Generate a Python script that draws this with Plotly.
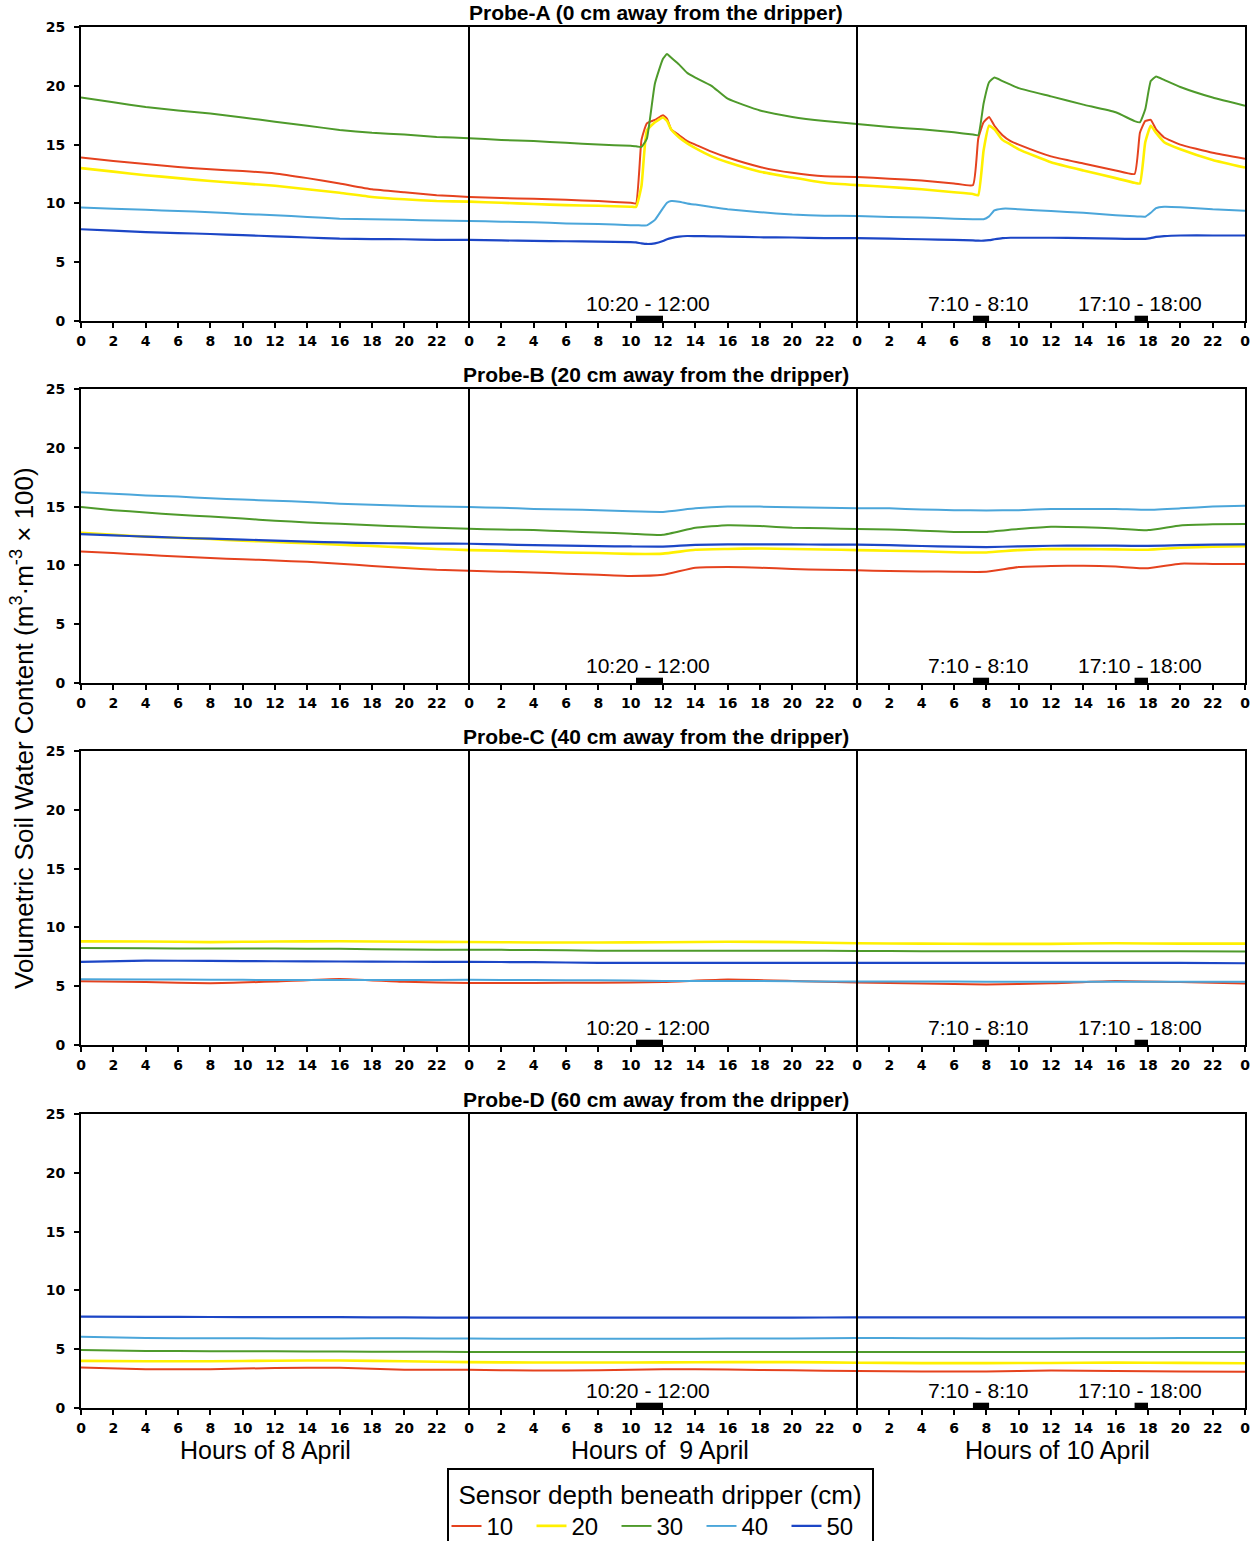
import plotly.graph_objects as go

W, H = 1259, 1541

# ---------------- data ----------------
DEPTHS = ["10", "20", "30", "40", "50"]
COLORS = ["#E5421E", "#FFF000", "#4E9A2B", "#4BA6DA", "#1C46C6"]
WIDTHS = [2, 2.6, 2, 2, 2.2]

HOUR_TICKS = [0, 2, 4, 6, 8, 10, 12, 14, 16, 18, 20, 22]
DAY_LABELS = ["Hours of 8 April", "Hours of  9 April", "Hours of 10 April"]
PROBE_TITLES = ["Probe-A (0 cm away from the dripper)",
                "Probe-B (20 cm away from the dripper)",
                "Probe-C (40 cm away from the dripper)",
                "Probe-D (60 cm away from the dripper)"]
IRRIG_START = [34.33, 55.17, 65.17]
IRRIG_END = [36.0, 56.17, 66.0]
IRRIG_LABELS = ["10:20 - 12:00", "7:10 - 8:10", "17:10 - 18:00"]
IRRIG_LABEL_X = [35.1, 55.5, 65.5]

# Probe A
HOURS_A = [0, 2, 4, 6, 8, 10, 12, 14, 16, 18, 20, 22,
           24, 26, 28, 30, 32, 34, 34.33, 34.67, 35, 35.5, 36, 36.25, 36.5, 37, 37.5, 38, 39, 40, 42, 44, 46,
           48, 50, 52, 54, 55.17, 55.5, 55.83, 56.17, 56.5, 57, 57.5, 58, 60, 62, 64,
           65.17, 65.5, 65.83, 66.17, 66.5, 67, 68, 70, 72]
A_10 = [13.9, 13.6, 13.35, 13.1, 12.9, 12.75, 12.55, 12.15, 11.7, 11.2, 10.95, 10.7,
        10.55, 10.45, 10.4, 10.3, 10.2, 10.05, 10.0, 15.4, 16.8, 17.1, 17.5, 17.2, 16.3, 15.8, 15.3, 15.0, 14.4, 13.9, 13.1, 12.6, 12.3,
        12.25, 12.1, 11.95, 11.7, 11.55, 15.5, 16.9, 17.35, 16.6, 15.8, 15.3, 15.0, 14.0, 13.4, 12.8,
        12.5, 16.0, 17.0, 17.1, 16.3, 15.6, 15.0, 14.3, 13.8]
A_20 = [13.0, 12.7, 12.4, 12.15, 11.9, 11.7, 11.5, 11.2, 10.9, 10.55, 10.35, 10.2,
        10.15, 10.05, 9.95, 9.85, 9.8, 9.72, 9.7, 11.5, 16.2, 16.9, 17.3, 17.0, 16.3, 15.6, 15.1, 14.7, 14.0, 13.5, 12.7, 12.2, 11.75,
        11.55, 11.4, 11.2, 10.95, 10.8, 10.7, 14.5, 16.6, 16.3, 15.4, 15.0, 14.6, 13.5, 12.8, 12.15,
        11.75, 11.7, 15.2, 16.6, 16.0, 15.2, 14.6, 13.7, 13.05]
A_30 = [19.0, 18.6, 18.2, 17.9, 17.65, 17.3, 16.95, 16.6, 16.25, 16.0, 15.85, 15.65,
        15.55, 15.4, 15.3, 15.15, 15.0, 14.9, 14.85, 14.8, 15.5, 20.2, 22.3, 22.7, 22.4, 21.8, 21.1, 20.7, 20.0, 18.9, 17.9, 17.35, 17.0,
        16.75, 16.5, 16.3, 16.05, 15.85, 15.8, 18.5, 20.3, 20.7, 20.4, 20.1, 19.8, 19.1, 18.4, 17.75,
        17.0, 16.9, 18.0, 20.4, 20.8, 20.5, 19.9, 19.0, 18.3]
A_40 = [9.65, 9.55, 9.45, 9.35, 9.25, 9.1, 9.0, 8.85, 8.7, 8.65, 8.6, 8.55,
        8.5, 8.45, 8.4, 8.3, 8.25, 8.15, 8.15, 8.13, 8.13, 8.6, 9.6, 10.05, 10.2, 10.15, 10.0, 9.9, 9.7, 9.5, 9.25, 9.05, 8.95,
        8.93, 8.85, 8.8, 8.7, 8.65, 8.65, 8.65, 8.9, 9.4, 9.55, 9.55, 9.5, 9.35, 9.2, 9.0,
        8.9, 8.88, 8.87, 9.2, 9.6, 9.72, 9.68, 9.5, 9.38]
A_50 = [7.8, 7.68, 7.55, 7.48, 7.4, 7.3, 7.2, 7.1, 7.0, 6.97, 6.95, 6.9,
        6.9, 6.85, 6.82, 6.78, 6.75, 6.7, 6.68, 6.6, 6.55, 6.6, 6.8, 6.95, 7.05, 7.18, 7.23, 7.22, 7.2, 7.18, 7.12, 7.1, 7.05,
        7.05, 7.0, 6.95, 6.9, 6.85, 6.83, 6.83, 6.87, 6.95, 7.05, 7.08, 7.08, 7.08, 7.05, 7.0,
        6.98, 6.98, 6.98, 7.05, 7.15, 7.22, 7.27, 7.27, 7.27]

# Probe B
HOURS_B = [0, 2, 4, 6, 8, 10, 12, 14, 16, 18, 20, 22,
           24, 26, 28, 30, 32, 34, 36, 38, 40, 42, 44, 46,
           48, 50, 52, 54, 56, 58, 60, 62, 64, 66, 68, 70, 72]
B_10 = [11.19, 11.05, 10.9, 10.75, 10.62, 10.52, 10.42, 10.3, 10.14, 9.95, 9.77, 9.62,
        9.55, 9.47, 9.4, 9.3, 9.2, 9.1, 9.2, 9.8, 9.86, 9.8, 9.7, 9.62,
        9.58, 9.52, 9.49, 9.46, 9.46, 9.86, 9.95, 9.97, 9.9, 9.75, 10.15, 10.12, 10.11]
B_20 = [12.78, 12.6, 12.45, 12.35, 12.24, 12.1, 12.0, 11.88, 11.76, 11.65, 11.53, 11.4,
        11.3, 11.25, 11.18, 11.1, 11.05, 10.98, 11.0, 11.33, 11.4, 11.44, 11.4, 11.35,
        11.3, 11.25, 11.2, 11.12, 11.1, 11.3, 11.39, 11.38, 11.36, 11.33, 11.5, 11.59, 11.64]
B_30 = [14.96, 14.7, 14.5, 14.3, 14.16, 13.98, 13.8, 13.65, 13.54, 13.42, 13.3, 13.2,
        13.12, 13.05, 13.0, 12.9, 12.8, 12.7, 12.6, 13.2, 13.42, 13.35, 13.2, 13.15,
        13.09, 13.05, 12.95, 12.85, 12.85, 13.1, 13.29, 13.25, 13.14, 13.0, 13.4, 13.5, 13.51]
B_40 = [16.23, 16.1, 15.95, 15.85, 15.7, 15.6, 15.5, 15.4, 15.25, 15.15, 15.07, 15.0,
        14.96, 14.9, 14.8, 14.75, 14.7, 14.6, 14.55, 14.85, 15.0, 15.0, 14.95, 14.9,
        14.85, 14.85, 14.75, 14.7, 14.67, 14.7, 14.8, 14.8, 14.8, 14.73, 14.85, 15.0, 15.07]
B_50 = [12.66, 12.55, 12.45, 12.35, 12.27, 12.2, 12.1, 12.02, 11.95, 11.9, 11.87, 11.85,
        11.84, 11.78, 11.72, 11.68, 11.64, 11.61, 11.6, 11.75, 11.78, 11.78, 11.78, 11.77,
        11.76, 11.72, 11.65, 11.6, 11.56, 11.62, 11.67, 11.68, 11.68, 11.66, 11.72, 11.76, 11.78]

# Probe C
HOURS_C = [0, 4, 8, 12, 16, 20, 24, 28, 32, 36, 40, 44, 48, 52, 56, 60, 64, 68, 72]
C_10 = [5.42, 5.36, 5.25, 5.4, 5.62, 5.37, 5.28, 5.28, 5.3, 5.35, 5.56, 5.45, 5.31, 5.23, 5.15, 5.25, 5.45, 5.35, 5.23]
C_20 = [8.81, 8.8, 8.75, 8.8, 8.82, 8.78, 8.76, 8.72, 8.72, 8.74, 8.78, 8.75, 8.65, 8.62, 8.6, 8.6, 8.65, 8.62, 8.62]
C_30 = [8.25, 8.23, 8.2, 8.2, 8.18, 8.12, 8.1, 8.08, 8.02, 8.02, 8.02, 8.02, 8.0, 7.97, 7.97, 7.97, 7.97, 7.97, 7.95]
C_40 = [5.59, 5.57, 5.55, 5.53, 5.52, 5.53, 5.54, 5.52, 5.5, 5.45, 5.45, 5.42, 5.4, 5.4, 5.38, 5.38, 5.38, 5.38, 5.38]
C_50 = [7.06, 7.17, 7.15, 7.12, 7.1, 7.08, 7.06, 7.05, 6.98, 6.98, 6.98, 6.98, 6.98, 6.98, 6.98, 6.98, 6.98, 6.98, 6.95]

# Probe D
HOURS_D = [0, 4, 8, 12, 16, 20, 24, 28, 32, 36, 40, 44, 48, 52, 56, 60, 64, 68, 72]
D_10 = [3.45, 3.3, 3.3, 3.4, 3.42, 3.25, 3.25, 3.18, 3.2, 3.3, 3.28, 3.2, 3.15, 3.1, 3.1, 3.18, 3.15, 3.1, 3.08]
D_20 = [4.01, 3.98, 3.97, 4.02, 4.04, 3.97, 3.9, 3.87, 3.87, 3.88, 3.9, 3.9, 3.85, 3.82, 3.82, 3.83, 3.86, 3.84, 3.81]
D_30 = [4.94, 4.85, 4.83, 4.82, 4.8, 4.78, 4.77, 4.77, 4.77, 4.77, 4.77, 4.77, 4.77, 4.77, 4.76, 4.76, 4.76, 4.77, 4.77]
D_40 = [6.05, 5.95, 5.93, 5.92, 5.92, 5.93, 5.9, 5.88, 5.88, 5.88, 5.9, 5.92, 5.96, 5.93, 5.92, 5.92, 5.93, 5.95, 5.96]
D_50 = [7.77, 7.75, 7.74, 7.73, 7.72, 7.7, 7.68, 7.68, 7.68, 7.68, 7.68, 7.68, 7.71, 7.7, 7.7, 7.7, 7.7, 7.7, 7.71]

PANELS = [
    (HOURS_A, [A_10, A_20, A_30, A_40, A_50]),
    (HOURS_B, [B_10, B_20, B_30, B_40, B_50]),
    (HOURS_C, [C_10, C_20, C_30, C_40, C_50]),
    (HOURS_D, [D_10, D_20, D_30, D_40, D_50]),
]

# ---------------- layout geometry (pixels) ----------------
X_LEFT, X_RIGHT = 81, 1245
PANEL_TOPS = [27, 389, 751, 1114]
PANEL_H = 294

def py(p):
    return 1 - p / H

TXT = "Liberation Sans"
XTICKFONT = dict(family="DejaVu Sans", size=14, color="black", weight="bold")
YTICKFONT = dict(family="DejaVu Sans", size=14, color="black", weight="bold")

fig = go.Figure()
shapes = []
annotations = []

tickvals = [d * 24 + h for d in range(3) for h in HOUR_TICKS] + [72]
ticktext = [str(h) for d in range(3) for h in HOUR_TICKS] + ["0"]

for i, (hours, series) in enumerate(PANELS):
    n = i + 1
    xa = "x" if n == 1 else f"x{n}"
    ya = "y" if n == 1 else f"y{n}"
    for j, vals in enumerate(series):
        fig.add_trace(go.Scatter(
            x=hours, y=vals, mode="lines", xaxis=xa, yaxis=ya,
            line=dict(color=COLORS[j], width=WIDTHS[j], shape="spline", smoothing=0.4),
            name=DEPTHS[j], legendgroup=DEPTHS[j], showlegend=(i == 0),
        ))
    top = PANEL_TOPS[i]
    bot = top + PANEL_H
    xkey = "xaxis" if n == 1 else f"xaxis{n}"
    ykey = "yaxis" if n == 1 else f"yaxis{n}"
    fig.update_layout(**{
        xkey: dict(domain=[X_LEFT / W, X_RIGHT / W], range=[0, 72], anchor=ya,
                   tickmode="array", tickvals=tickvals, ticktext=ticktext,
                   ticks="outside", ticklen=5, tickwidth=1.5, tickcolor="black",
                   showline=True, linecolor="black", linewidth=2, mirror=True,
                   showgrid=False, zeroline=False, tickfont=XTICKFONT, ticklabelstandoff=1,
                   automargin=False),
        ykey: dict(domain=[py(bot), py(top)], range=[0, 25], anchor=xa,
                   tickmode="array", tickvals=[0, 5, 10, 15, 20, 25],
                   ticks="outside", ticklen=5, tickwidth=1.5, tickcolor="black",
                   showline=True, linecolor="black", linewidth=2, mirror=True,
                   showgrid=False, zeroline=False, tickfont=YTICKFONT, ticklabelstandoff=6,
                   automargin=False),
    })
    # day separators
    for d in (24, 48):
        shapes.append(dict(type="line", xref=xa, yref=f"{ya} domain", x0=d, x1=d, y0=0, y1=1,
                           line=dict(color="black", width=2)))
    # irrigation bars and labels
    for s, e, lab, lx in zip(IRRIG_START, IRRIG_END, IRRIG_LABELS, IRRIG_LABEL_X):
        shapes.append(dict(type="rect", xref=xa, yref=ya, x0=s, x1=e, y0=0, y1=0.45,
                           fillcolor="black", line=dict(width=0)))
        annotations.append(dict(xref=xa, yref=ya, x=lx, y=1.5, text=lab, showarrow=False,
                                xanchor="center", yanchor="middle",
                                font=dict(family=TXT, size=21, color="black")))
    # panel title
    annotations.append(dict(xref="paper", yref="paper", x=656 / W, y=py(top - 1),
                            xanchor="center", yanchor="bottom",
                            text=f"<b>{PROBE_TITLES[i]}</b>", showarrow=False,
                            font=dict(family=TXT, size=21, color="black")))

# day labels under bottom panel
for lab, cx in zip(DAY_LABELS, [11.4, 35.8, 60.4]):
    annotations.append(dict(xref="x4", yref="paper", x=cx, y=py(1450), xanchor="center",
                            yanchor="middle", text=lab, showarrow=False,
                            font=dict(family=TXT, size=25, color="black")))

# y-axis title
annotations.append(dict(xref="paper", yref="paper", x=22 / W, y=py(728), textangle=-90,
                        xanchor="center", yanchor="middle",
                        text="Volumetric Soil Water Content (m<sup>3</sup>·m<sup>-3</sup> × 100)",
                        showarrow=False, font=dict(family=TXT, size=26, color="black")))

fig.update_layout(
    width=W, height=H,
    margin=dict(l=0, r=0, t=0, b=0, autoexpand=False),
    paper_bgcolor="white", plot_bgcolor="white",
    shapes=shapes, annotations=annotations,
    showlegend=True,
    legend=dict(orientation="h", x=660 / W, xanchor="center", y=py(1468), yanchor="top",
                bordercolor="black", borderwidth=2, bgcolor="white",
                font=dict(family=TXT, size=24, color="black"),
                title=dict(text="Sensor depth beneath dripper (cm)", side="top center",
                           font=dict(family=TXT, size=26, color="black")),
                itemwidth=30, entrywidth=40, tracegroupgap=0),
)

fig.write_html("out.html")
